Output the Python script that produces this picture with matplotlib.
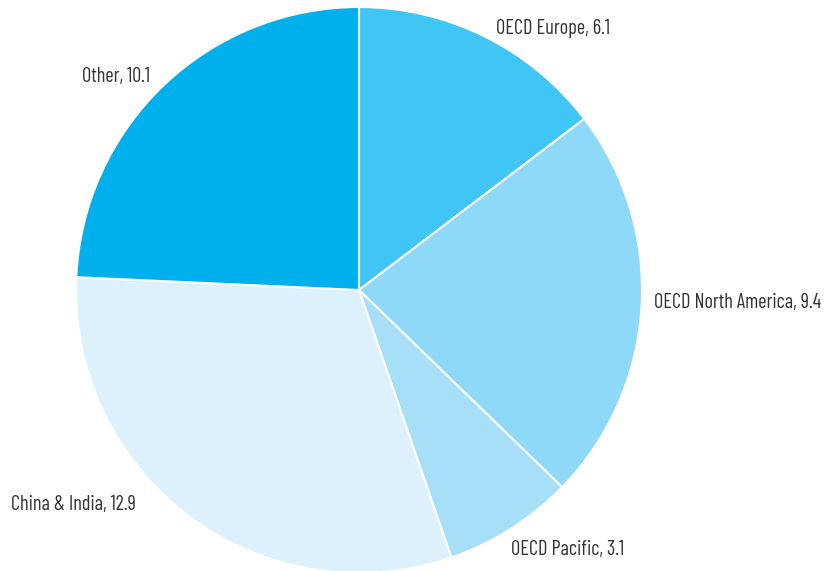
import numpy as np
import matplotlib.pyplot as plt

# ── Data ──────────────────────────────────────────────────────────────────────
regions = ["OECD Europe", "OECD North America", "OECD Pacific", "China & India", "Other"]
values = [6.1, 9.4, 3.1, 12.9, 10.1]
colors = ["#40C6F4", "#8ED8F8", "#A8DFF8", "#DCF1FC", "#00B0ED"]

labels = [f"{r}, {v}" for r, v in zip(regions, values)]

# label placement (angle in degrees, distance in pie radii) – tuned to the original
label_angle = [62.4, -2.35, -59.7, -136.2, 134.35]
label_dist = [1.042, 1.045, 1.063, 1.094, 1.056]

# ── Plot ──────────────────────────────────────────────────────────────────────
plt.rcParams["font.family"] = ["Barlow Condensed", "Liberation Sans Narrow", "DejaVu Sans"]

W, H = 829, 571
fig = plt.figure(figsize=(W / 100, H / 100), dpi=100)
ax = fig.add_axes([0, 0, 1, 1])

R = 283  # pie radius in px
cx, cy = 359, 290  # centre in px (from top-left)

wedges, texts = ax.pie(
    values,
    labels=labels,
    colors=colors,
    startangle=90,
    counterclock=False,
    labeldistance=1.05,
    wedgeprops=dict(edgecolor="white", linewidth=1.5),
    textprops=dict(color="#333333", fontsize=14.6),
)

for t, a, d in zip(texts, label_angle, label_dist):
    a = np.deg2rad(a)
    t.set_position((d * np.cos(a), d * np.sin(a)))

ax.set_xlim(-cx / R, (W - cx) / R)
ax.set_ylim(-(H - cy) / R, cy / R)
ax.set_aspect("auto")
ax.axis("off")

plt.savefig("out.png", dpi=100)
